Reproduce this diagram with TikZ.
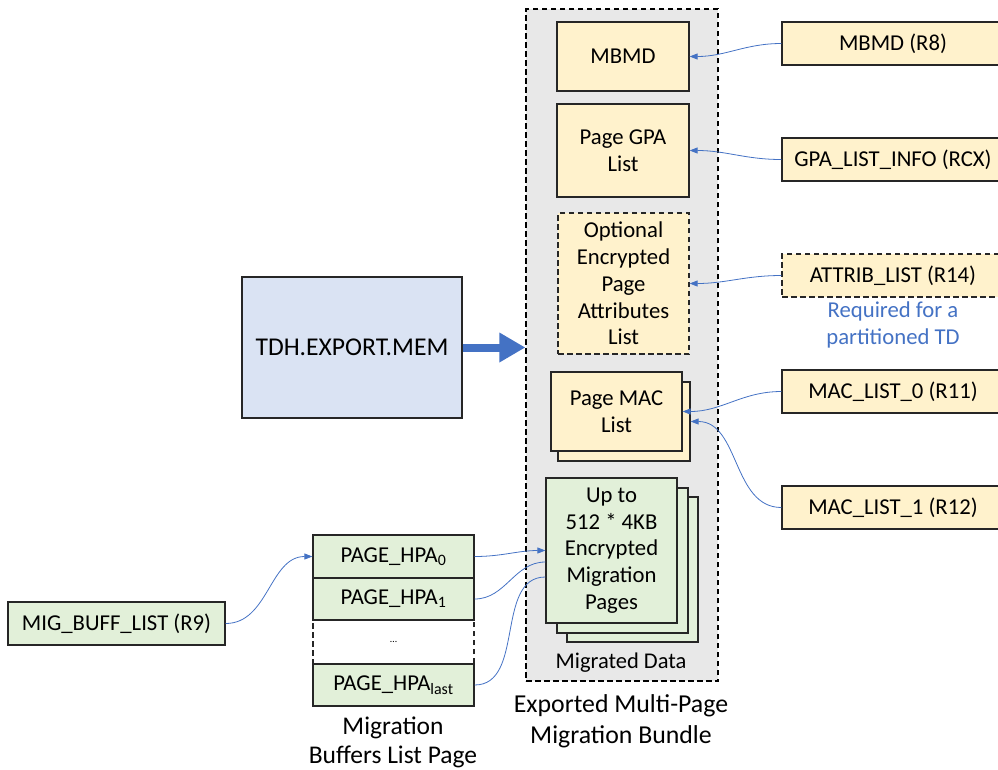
\documentclass[tikz,border=0pt]{standalone}
\usepackage{fontspec}
\setmainfont{Carlito}
\usetikzlibrary{arrows.meta}
\definecolor{yel}{HTML}{FFF2CC}
\definecolor{grn}{HTML}{E2F0D9}
\definecolor{blu}{HTML}{DAE3F3}
\definecolor{lnk}{HTML}{4472C4}
\definecolor{bgray}{HTML}{E8E8E8}
\tikzset{
  box/.style={draw=black!85, line width=1.2pt, inner sep=0pt, align=center,
    font=\fontsize{22.7}{26.7}\selectfont},
  ybox/.style={box, fill=yel},
  gbox/.style={box, fill=grn},
  dsh/.style={dash pattern=on 5.5pt off 3.5pt},
  link/.style={draw=lnk, line width=0.8pt, -{Triangle[length=8pt,width=6pt]}},
  plainlink/.style={draw=lnk, line width=0.8pt},
  bigarrow/.style={draw=lnk, line width=8pt, -{Triangle[length=26pt,width=28pt]}},
  lbl/.style={align=center, inner sep=0pt}
}
\begin{document}
\begin{tikzpicture}[x=1pt,y=-1pt]
\useasboundingbox (0,0) rectangle (998,769);
\clip (0,0) rectangle (998,769);
% bundle
\node[draw=black, line width=1.2pt, dsh, fill=bgray, minimum width=192pt, minimum height=672pt, inner sep=0pt] (bundle) at (622,345) {};
\node[ybox, minimum width=132pt, minimum height=69pt] (mbmd) at (623,56.5) {MBMD};
\node[ybox, minimum width=132pt, minimum height=93pt] (gpa) at (623,150.5) {Page GPA\\List};
\node[ybox, dsh, minimum width=131pt, minimum height=141pt] (opt) at (623.5,283.5) {Optional\\Encrypted\\Page\\Attributes\\List};
\node[ybox, minimum width=132pt, minimum height=79pt] (macback) at (624,421.5) {};
\node[ybox, minimum width=131pt, minimum height=79pt] (macfront) at (616.5,411.5) {Page MAC\\List};
\node[gbox, minimum width=131pt, minimum height=145pt] (gthird) at (632.5,569.5) {};
\node[gbox, minimum width=131pt, minimum height=145pt] (gsecond) at (622.5,560.5) {};
\node[gbox, minimum width=131pt, minimum height=145pt] (gfront) at (611.5,550.5) {Up to\\512 * 4KB\\Encrypted\\Migration\\Pages};
\node[lbl, font=\fontsize{22.5}{26}\selectfont] (migdata) at (621,663) {Migrated Data};
\node[lbl, font=\fontsize{25.8}{31}\selectfont] (bundlelbl) at (621,721) {Exported Multi-Page\\Migration Bundle};
% right registers
\node[ybox, minimum width=222pt, minimum height=43pt] (r8) at (893,43.5) {MBMD (R8)};
\node[ybox, minimum width=222pt, minimum height=43pt] (rcx) at (893,159.5) {GPA\_LIST\_INFO (RCX)};
\node[ybox, dsh, minimum width=222pt, minimum height=43pt] (r14) at (893,275.5) {ATTRIB\_LIST (R14)};
\node[lbl, text=lnk, font=\fontsize{22.7}{26.7}\selectfont] (req) at (893,325) {Required for a\\partitioned TD};
\node[ybox, minimum width=222pt, minimum height=43pt] (r11) at (893,391.5) {MAC\_LIST\_0 (R11)};
\node[ybox, minimum width=222pt, minimum height=43pt] (r12) at (893,507.5) {MAC\_LIST\_1 (R12)};
% TDH
\node[box, fill=blu, minimum width=220pt, minimum height=141pt, font=\fontsize{25.6}{30}\selectfont] (tdh) at (352,347.5) {TDH.EXPORT.MEM};
\draw[bigarrow] (tdh.east) -- (tdh.east -| bundle.west);
% left
\node[gbox, minimum width=217pt, minimum height=43pt] (mig) at (116.5,623.5) {MIG\_BUFF\_LIST (R9)};
\node[gbox, minimum width=161pt, minimum height=43pt] (hpa0) at (393.5,556.5) {PAGE\_HPA\textsubscript{0}};
\node[gbox, minimum width=161pt, minimum height=42pt] (hpa1) at (393.5,599) {PAGE\_HPA\textsubscript{1}};
\node[box, dsh, minimum width=161pt, minimum height=44pt, font=\fontsize{10}{12}\selectfont] (hpadots) at (393.5,642) {\dots};
\node[gbox, minimum width=161pt, minimum height=42pt] (hpalast) at (393.5,685) {PAGE\_HPA\textsubscript{last}};
\node[lbl, font=\fontsize{25.5}{29}\selectfont] (buflbl) at (393,742) {Migration\\Buffers List Page};
% connectors
\draw[link] (r8.west) to[out=180,in=0] (mbmd.east);
\draw[link] (rcx.west) to[out=180,in=0] (gpa.east);
\draw[link] (r14.west) to[out=180,in=0] (opt.east);
\draw[link] (r11.west) to[out=180,in=0] (macfront.east);
\draw[link] (r12.west) to[out=180,in=0] (macback.east);
\draw[link] (mig.east) to[out=0,in=180] (hpa0.west);
\draw[link] (hpa0.east) to[out=0,in=180] (gfront.west);
\draw[plainlink] (hpa1.east) to[out=0,in=180] ([yshift=-11.5pt]gfront.west);
\draw[plainlink] (hpalast.east) to[out=0,in=180] ([yshift=-26.5pt]gfront.west);
\end{tikzpicture}
\end{document}
